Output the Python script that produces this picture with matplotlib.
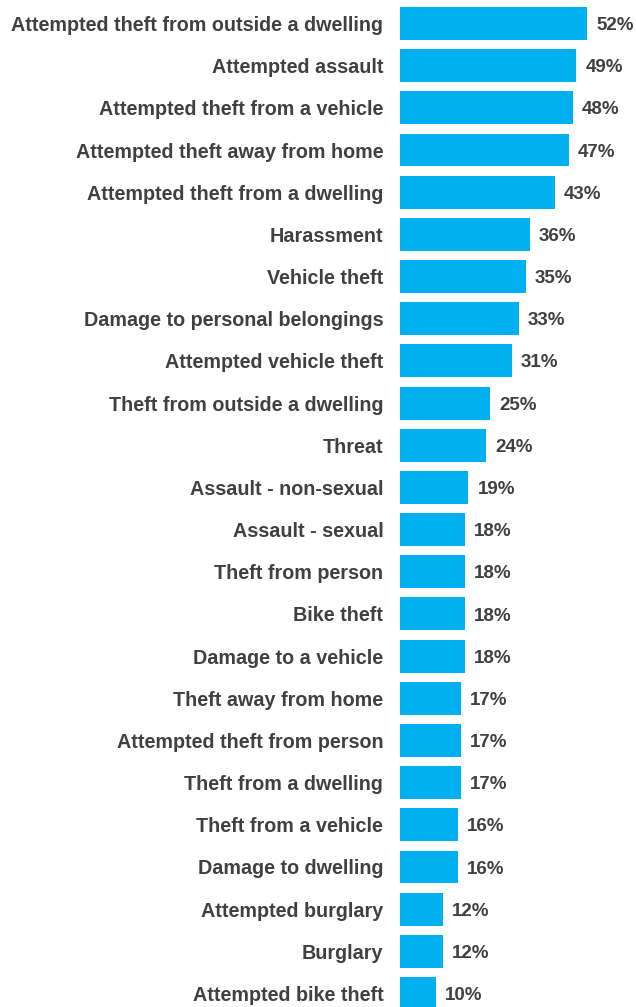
import matplotlib.pyplot as plt

categories = [
    "Attempted theft from outside a dwelling",
    "Attempted assault",
    "Attempted theft from a vehicle",
    "Attempted theft away from home",
    "Attempted theft from a dwelling",
    "Harassment",
    "Vehicle theft",
    "Damage to personal belongings",
    "Attempted vehicle theft",
    "Theft from outside a dwelling",
    "Threat",
    "Assault - non-sexual",
    "Assault - sexual",
    "Theft from person",
    "Bike theft",
    "Damage to a vehicle",
    "Theft away from home",
    "Attempted theft from person",
    "Theft from a dwelling",
    "Theft from a vehicle",
    "Damage to dwelling",
    "Attempted burglary",
    "Burglary",
    "Attempted bike theft",
]
values = [52, 49, 48, 47, 43, 36, 35, 33, 31, 25, 24, 19, 18, 18, 18, 18,
          17, 17, 17, 16, 16, 12, 12, 10]

plt.rcParams['font.family'] = ['Liberation Sans', 'DejaVu Sans']
text_color = '#404040'
bar_color = '#00B0F0'

fig = plt.figure(figsize=(6.36, 10.07), dpi=100)
ax = fig.add_axes([400 / 636, 0, 236 / 636, 1])

y = list(range(len(categories)))
ax.barh(y, values, height=0.78, color=bar_color)

for yi, v in zip(y, values):
    ax.annotate(f"{v}%", (v, yi), xytext=(6.5, -1.5), textcoords='offset points',
                va='center', ha='left', fontsize=13.5, fontweight='bold',
                color=text_color)

ax.set_xlim(0, 236 / 3.6)
ax.set_ylim(23.32, -0.557)
ax.set_yticks(y)
ax.set_yticklabels(categories, fontsize=14.2, fontweight='bold', color=text_color)
ax.tick_params(axis='y', length=0, pad=12)
ax.set_xticks([])
for s in ax.spines.values():
    s.set_visible(False)

fig.savefig('out.png', dpi=100)
